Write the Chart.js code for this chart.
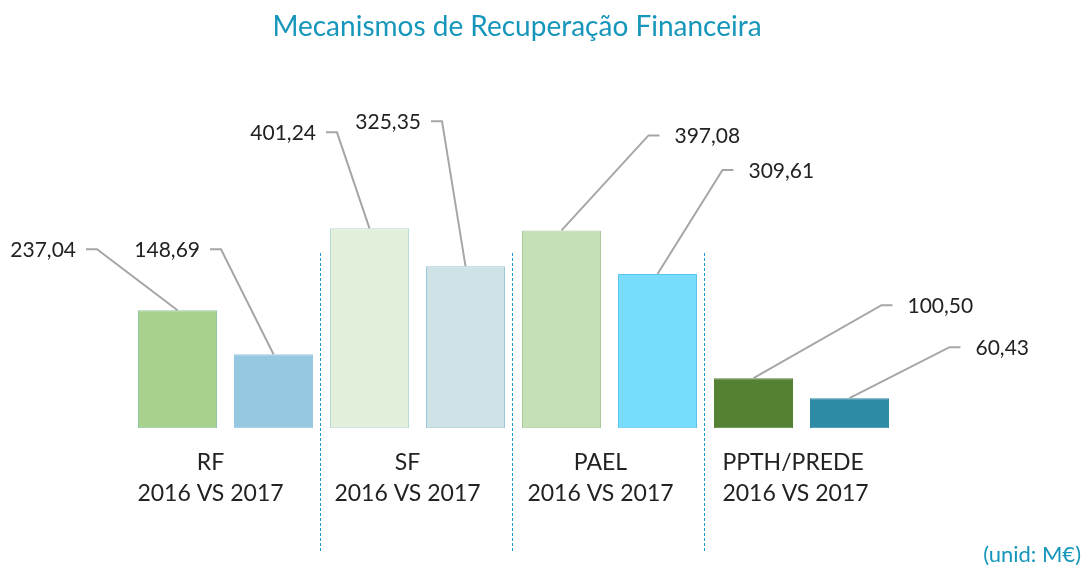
<!DOCTYPE html>
<html><head><meta charset="utf-8">
<script src="https://cdn.jsdelivr.net/npm/chart.js@4.4.1/dist/chart.umd.min.js"></script>
<style>html,body{margin:0;padding:0;background:#fff;}#wrap{width:1086px;height:567px;position:relative;}</style>
</head><body><div id="wrap"><canvas id="c" width="1086" height="567"></canvas></div>
<script>
const chartTitle = 'Mecanismos de Recuperação Financeira';
const unitLabel = '(unid: M€)';
const categories = ['RF', 'SF', 'PAEL', 'PPTH/PREDE'];
const subLabel = '2016 VS 2017';
const values2016 = [237.04, 401.24, 397.08, 100.50];
const values2017 = [148.69, 325.35, 309.61, 60.43];

const fill2016 = ['#a9d18e', '#e2efda', '#c5e0b4', '#548235'];
const border2016 = ['#8fc7a5', '#bcd9d9', '#a9c99c', '#548235'];
const fill2017 = ['#97c8e2', '#cfe2e6', '#78dcfc', '#2e8ba5'];
const border2017 = ['#97c8e2', '#9cc6d8', '#5cc2ee', '#2e8ba5'];

// leader elbow offsets relative to bar top center [dx, dy]
const leader = [
  [[-80.5, -61], [-52.5, -105]],
  [[-32.5, -96], [-23.5, -145]],
  [[87, -95], [65, -104]],
  [[128, -73], [100, -51]]
];
const labelShift = [-15, -10, -9, -6];

const fmt = v => v.toFixed(2).replace('.', ',');
const FONT = 'Lato, "Open Sans", sans-serif';

const overlay = {
  id: 'overlay',
  afterDatasetsDraw(chart) {
    const ctx = chart.ctx;
    const xs = chart.scales.x;
    ctx.save();
    // title
    ctx.fillStyle = '#1796bb';
    ctx.font = '28px ' + FONT;
    ctx.textAlign = 'center';
    ctx.textBaseline = 'middle';
    ctx.fillText(chartTitle, 517, 27);
    // unit
    ctx.font = '22px ' + FONT;
    ctx.textAlign = 'right';
    ctx.fillText(unitLabel, 1081, 555);
    // separators
    ctx.strokeStyle = '#1a9bd0';
    ctx.lineWidth = 1;
    ctx.setLineDash([3, 2]);
    for (let i = 0; i < categories.length - 1; i++) {
      const x = Math.round((xs.getPixelForValue(i) + xs.getPixelForValue(i + 1)) / 2) - 2 + 0.5;
      ctx.beginPath(); ctx.moveTo(x, 253); ctx.lineTo(x, 553); ctx.stroke();
    }
    ctx.setLineDash([]);
    // category labels
    ctx.fillStyle = '#222';
    ctx.font = '23px ' + FONT;
    categories.forEach((c, i) => {
      const cx = xs.getPixelForValue(i) + labelShift[i];
      ctx.textAlign = 'center';
      ctx.fillText(subLabel, cx, 494);
      if (i === categories.length - 1) {
        ctx.textAlign = 'left';
        ctx.fillText(c, cx - ctx.measureText(subLabel).width / 2, 463);
      } else {
        ctx.fillText(c, cx, 463);
      }
    });
    // leaders and values
    ctx.font = '21px ' + FONT;
    [0, 1].forEach(di => {
      const meta = chart.getDatasetMeta(di);
      meta.data.forEach((bar, i) => {
        const [dx, dy] = leader[i][di];
        const ex = bar.x + dx, ey = bar.y + dy;
        const left = dx < 0;
        const sx = left ? ex - 11 : ex + 11;
        ctx.strokeStyle = '#a6a6a6';
        ctx.lineWidth = 2;
        ctx.beginPath(); ctx.moveTo(bar.x, bar.y); ctx.lineTo(ex, ey); ctx.lineTo(sx, ey); ctx.stroke();
        ctx.fillStyle = '#222';
        ctx.textAlign = left ? 'right' : 'left';
        ctx.fillText(fmt(chart.data.datasets[di].data[i]), left ? sx - 10 : sx + 15, ey + 1);
      });
    });
    ctx.restore();
  }
};

new Chart(document.getElementById('c'), {
  type: 'bar',
  data: {
    labels: categories,
    datasets: [
      { label: '2016', data: values2016, backgroundColor: fill2016, borderColor: border2016, borderWidth: 1, borderSkipped: false },
      { label: '2017', data: values2017, backgroundColor: fill2017, borderColor: border2017, borderWidth: 1, borderSkipped: false }
    ]
  },
  options: {
    responsive: false,
    animation: false,
    layout: { padding: { left: 129.5, right: 188.5, top: 129.3, bottom: 138.7 } },
    categoryPercentage: 1.0,
    barPercentage: 0.823,
    plugins: { legend: { display: false }, tooltip: { enabled: false }, title: { display: false } },
    scales: {
      x: { display: false },
      y: { display: false, min: 0, max: 600 }
    }
  },
  plugins: [overlay]
});
</script></body></html>
